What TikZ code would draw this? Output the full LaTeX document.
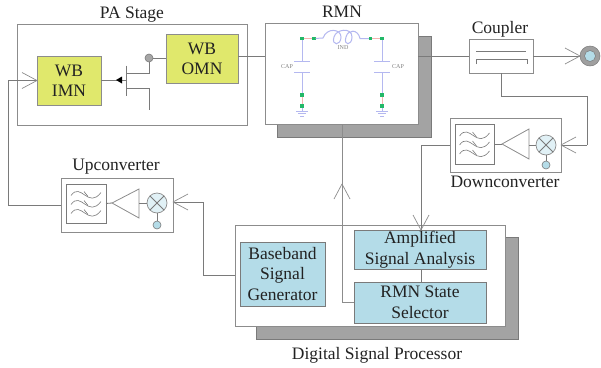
\documentclass[tikz,border=0pt]{standalone}
\usepackage{fontspec}
\setmainfont{Liberation Serif}
\usetikzlibrary{arrows.meta}
\definecolor{edgegrey}{HTML}{8C8C8C}
\definecolor{wire}{HTML}{7A7A7A}
\definecolor{shadowgrey}{HTML}{A3A3A3}
\definecolor{padyellow}{HTML}{E0E86C}
\definecolor{dspblue}{HTML}{B4DCE8}
\definecolor{cktblue}{HTML}{B4B8F0}
\definecolor{cktpink}{HTML}{F4B4B0}
\definecolor{cktgreen}{HTML}{22B868}
\definecolor{txt}{HTML}{222222}
\pgfdeclarearrow{
  name=OpenVee,
  setup code={\pgfarrowssettipend{0pt}\pgfarrowssetlineend{-0.5pt}\pgfarrowssetvisualbackend{-15pt}\pgfarrowssetbackend{-15pt}},
  drawing code={
    \pgfsetdash{}{0pt}\pgfsetlinewidth{0.7pt}\pgfsetroundjoin
    \pgfsetstrokecolor{edgegrey}
    \pgfpathmoveto{\pgfqpoint{-15pt}{8pt}}
    \pgfpathlineto{\pgfqpoint{0pt}{0pt}}
    \pgfpathlineto{\pgfqpoint{-15pt}{-8pt}}
    \pgfusepathqstroke
  },
  defaults={}
}
\tikzset{
  wirel/.style={draw=wire,line width=0.8pt},
  openhead/.style={-{OpenVee}},
  frame/.style={draw=edgegrey,line width=0.9pt,fill=white,inner sep=0pt,outer sep=0pt},
  shadowbox/.style={draw=wire,line width=0.9pt,fill=shadowgrey,inner sep=0pt,outer sep=0pt},
  yellowbox/.style={draw=edgegrey,line width=0.9pt,fill=padyellow,inner sep=0pt,outer sep=0pt,align=center,text=txt,font=\fontsize{17.5}{20}\selectfont},
  bluebox/.style={draw=wire,line width=0.8pt,fill=dspblue,inner sep=0pt,outer sep=0pt,align=center,text=txt,font=\fontsize{17.5}{20.5}\selectfont},
  titletext/.style={text=txt,inner sep=0pt,font=\fontsize{17.5}{20}\selectfont},
  mixerball/.style={circle,draw=edgegrey,line width=0.7pt,fill=dspblue!40!white,minimum size=20pt,inner sep=0pt,outer sep=0pt},
  lo/.style={circle,draw=wire,line width=0.6pt,fill=dspblue,minimum size=8pt,inner sep=0pt,outer sep=0pt},
  filterbox/.style={draw=wire,line width=0.8pt,fill=white,inner sep=0pt,outer sep=0pt},
  cktb/.style={draw=cktblue,line width=1pt},
  cktp/.style={draw=cktpink,line width=1pt},
  cktdot/.style={rectangle,fill=cktgreen,minimum size=3.4pt,inner sep=0pt,outer sep=0pt},
  cktlabel/.style={text=gray,inner sep=0pt,font=\fontsize{6}{7}\selectfont},
  wave/.style={draw=wire,line width=0.6pt},
}
\newcommand{\waves}[1]{% filter symbol in box named #1
  \foreach \dy in {-9,0,9}{
    \begin{scope}[shift={(#1.center)},yshift=\dy pt]
      \draw[wave] (-15pt,-1pt) .. controls (-5pt,13pt) and (2pt,-15pt) .. (15pt,2pt);
      \draw[wave] (-2pt,3pt) -- (2pt,-2pt);
    \end{scope}
  }
}
\begin{document}
\begin{tikzpicture}[x=1pt,y=-1pt]
\useasboundingbox (0,0) rectangle (601,367);

% ---------- frames
\node[frame,minimum width=230pt,minimum height=101pt] (pa) at (132,74.5) {};
\node[shadowbox,minimum width=154pt,minimum height=101pt] (rmnshadow) at (354,86.5) {};
\node[frame,minimum width=153pt,minimum height=101pt] (rmn) at (341.5,73.5) {};
\node[shadowbox,minimum width=262pt,minimum height=102pt] (dspshadow) at (387,288) {};
\node[frame,minimum width=270pt,minimum height=101pt] (dsp) at (370,275.5) {};
\node[frame,minimum width=64pt,minimum height=34pt] (coupler) at (501,56) {};
\node[frame,minimum width=111pt,minimum height=54pt] (down) at (505.5,145) {};
\node[frame,minimum width=112pt,minimum height=54pt] (up) at (117,205) {};

% ---------- inner blocks
\node[yellowbox,minimum width=64pt,minimum height=49pt] (imn) at (69,80.5) {WB\\IMN};
\node[yellowbox,minimum width=72pt,minimum height=49pt] (omn) at (202,58.5) {WB\\OMN};
\node[bluebox,minimum width=85pt,minimum height=64pt] (bb) at (282.5,274) {Baseband\\Signal\\Generator};
\node[bluebox,minimum width=132pt,minimum height=39pt] (asa) at (420,249.5) {Amplified\\Signal Analysis};
\node[bluebox,minimum width=132pt,minimum height=41pt] (sel) at (420,302.5) {RMN State\\Selector};

% ---------- titles
\node[titletext] (t1) at (132,15) {PA Stage};
\node[titletext] (t2) at (342,12) {RMN};
\node[titletext] (t3) at (500,29) {Coupler};
\node[titletext] (t4) at (505,182) {Downconverter};
\node[titletext] (t5) at (116,167) {Upconverter};
\node[titletext] (t6) at (377,355) {Digital Signal Processor};

% ---------- transistor
\coordinate (gatebar) at (126,80);
\coordinate (dtop) at (126,73);
\coordinate (sbot) at (126,88);
\coordinate (send) at (149,110);
\coordinate (dcorner) at (149,73);
\coordinate (scorner) at (149,88);
\node[circle,draw=wire,line width=0.6pt,fill=gray!70,minimum size=8pt,inner sep=0pt,outer sep=0pt] (drain) at (149,58) {};
\draw[wirel] (imn.east |- gatebar) -- (gatebar);
\draw[wirel] (126,65.5) -- (126,95.5);
\draw[wirel] (dtop) -- (dcorner) -- (drain.south);
\draw[wirel] (sbot) -- (scorner) -- (send);
\draw[wirel] (drain.east) -- (drain.east -| omn.west);
\fill[black] (116,80) -- (122,76.5) -- (122,83.5) -- cycle;

% ---------- main connectors
\coordinate (a1) at (8,205);
\coordinate (a2) at (8,80.5);
\draw[wirel] (up.west) -- (a1) -- (a2);
\draw[wirel,openhead] (a2) -- (imn.west);
\coordinate (omnout) at (238,56);
\draw[wirel] (omnout) -- (rmn.west |- omnout);
\draw[wirel] (rmn.east |- omnout) -- (coupler.west);
\node[circle,draw=wire,line width=0.5pt,fill=gray!75,minimum size=20pt,inner sep=0pt,outer sep=0pt] (ant) at (590,56) {};
\node[circle,draw=wire,line width=0.5pt,fill=dspblue,minimum size=11pt,inner sep=0pt,outer sep=0pt] (anti) at (590,56) {};
\draw[wirel,openhead] (coupler.east) -- (ant.west);
\coordinate (c1) at (501,96);
\coordinate (c2) at (587,96);
\coordinate (c3) at (587,145);
\draw[wirel] (coupler.south) -- (c1) -- (c2) -- (c3);
\draw[wirel,openhead] (c3) -- (down.east);
\coordinate (d1) at (421,145);
\draw[wirel] (down.west) -- (d1);
\draw[wirel,openhead] (d1) -- (asa.north -| d1);
\draw[wirel] (asa.south -| d1) -- (sel.north -| d1);
\coordinate (e1) at (342,302);
\coordinate (e2) at (342,184);
\draw[draw=edgegrey,line width=0.9pt] (sel.west |- e1) -- (e1) -- (rmn.south -| e1);
\draw[draw=edgegrey,line width=0.8pt,openhead] (342,200) -- (e2);
\coordinate (f1) at (203,275);
\coordinate (f2) at (203,202);
\draw[wirel] (dsp.west |- f1) -- (f1) -- (f2);
\draw[wirel,openhead] (f2) -- (up.east |- f2);

% ---------- coupler inner
\coordinate (cp1) at (476,51);
\coordinate (cp2) at (526,51);
\draw[wirel] (cp1) -- (cp2);
\draw[wirel] (476,64) -- (476,59) -- (527,59) -- (527,64);

% ---------- downconverter chain
\node[filterbox,minimum width=39pt,minimum height=40pt] (fd) at (474.5,144) {};
\waves{fd}
\node[mixerball] (md) at (546,145) {};
\draw[wirel] (md.45) -- (md.225) (md.135) -- (md.315);
\node[lo] (lod) at (546,165) {};
\draw[wirel] (md.south) -- (lod.north);
\draw[draw=edgegrey,line width=0.8pt,fill=white] (502,144) coordinate (ad) -- (529,129) -- (529,159) -- cycle;
\draw[wirel] (fd.east) -- (ad);
\draw[wirel] (529,145) -- (md.west);

% ---------- upconverter chain
\node[filterbox,minimum width=40pt,minimum height=39pt] (fu) at (86,203.5) {};
\waves{fu}
\node[mixerball] (mu) at (157,203) {};
\draw[wirel] (mu.45) -- (mu.225) (mu.135) -- (mu.315);
\node[lo] (lou) at (157,225) {};
\draw[wirel] (mu.south) -- (lou.north);
\draw[draw=edgegrey,line width=0.8pt,fill=white] (112,203) coordinate (au) -- (139,189) -- (139,218) -- cycle;
\draw[wirel] (fu.east) -- (au);
\draw[wirel] (139,203) -- (mu.west);

% ---------- RMN circuit
\node[cktdot] (n1) at (302,38.5) {};
\node[cktdot] (n2) at (314,38.5) {};
\node[cktdot] (n3) at (370.5,38.5) {};
\node[cktdot] (n4) at (382,38.5) {};
\node[cktdot] (n5) at (302,95) {};
\node[cktdot] (n6) at (302,106) {};
\node[cktdot] (n7) at (382,95) {};
\node[cktdot] (n8) at (382,106) {};
\draw[cktp] (n1) -- (n2) (n3) -- (n4) (n5) -- (n6) (n7) -- (n8);
\draw[cktb] (n1) -- (302,61) (294,61) -- (310,61) (294,72) -- (310,72) (302,72) -- (n5);
\draw[cktb] (n4) -- (382,61) (374,61) -- (390,61) (374,72) -- (390,72) (382,72) -- (n7);
\draw[cktb] (n6) -- (302,111) (296,111) -- (308,111) (298,113.5) -- (306,113.5) (300,116) -- (304,116);
\draw[cktb] (n8) -- (382,111) (376,111) -- (388,111) (378,113.5) -- (386,113.5) (380,116) -- (384,116);
\draw[cktb] (n2) -- (323,38)
  .. controls (327,27) and (341,29) .. (341,37)
  .. controls (341,46) and (331,46) .. (334,37)
  .. controls (336,29) and (352,27) .. (352,37)
  .. controls (352,46) and (343,46) .. (346,37)
  .. controls (348,29) and (358,29) .. (360,38.5) -- (n3);
\node[cktlabel] (capa) at (287,67) {CAP};
\node[cktlabel] (capb) at (398,67) {CAP};
\node[cktlabel] (ind) at (343,48) {IND};
\end{tikzpicture}
\end{document}
